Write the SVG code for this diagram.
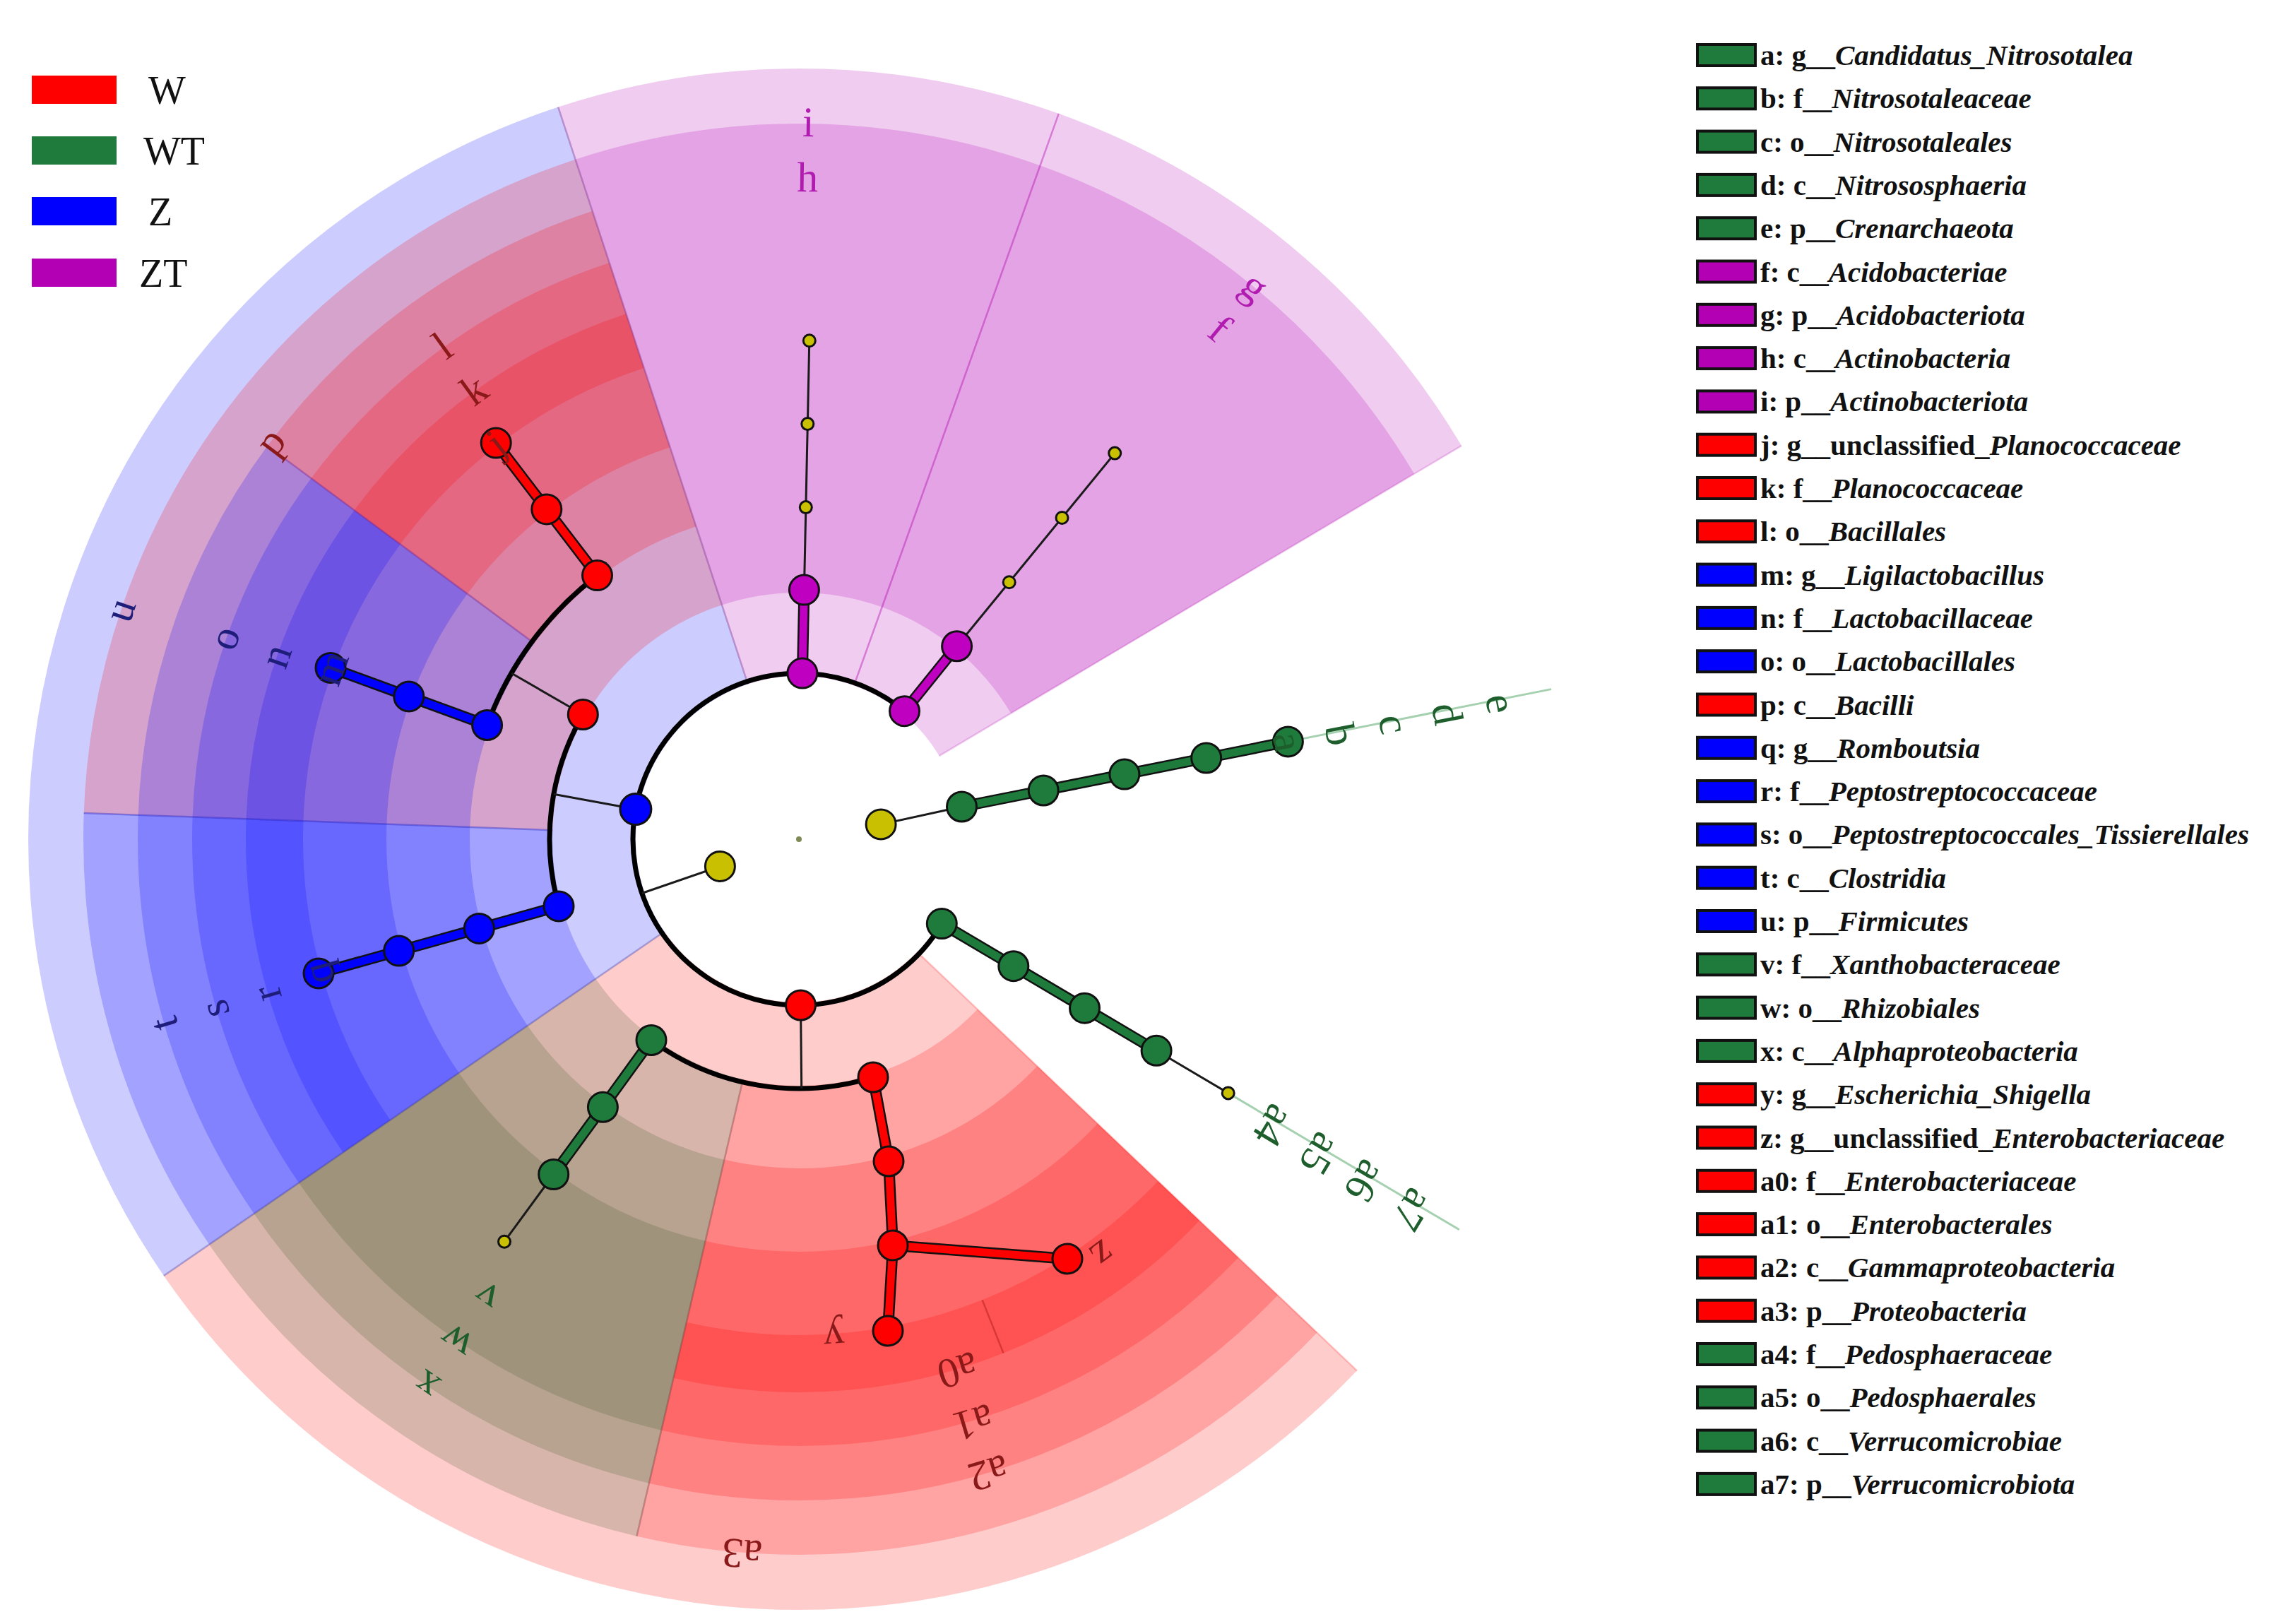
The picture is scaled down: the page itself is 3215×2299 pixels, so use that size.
<svg xmlns="http://www.w3.org/2000/svg" width="3215" height="2299" viewBox="0 0 3215 2299">
<style>
.sec{fill:none}
.sb{stroke:#0000ff;stroke-opacity:.2}
.sr{stroke:#ff0000;stroke-opacity:.2}
.sm{stroke:#b400b4;stroke-opacity:.2}
.sg{stroke:#3c5a28;stroke-opacity:.2}
.edge{stroke-width:2.5;fill:none}
.thin{stroke:#1a1a1a;stroke-width:3;fill:none}
.arc{stroke:#000;stroke-width:7;fill:none}
.out{stroke:#111;stroke-width:16;fill:none;stroke-linejoin:round}
.cG{stroke:#1e7b3c;stroke-width:11;fill:none;stroke-linejoin:round}
.cR{stroke:#ff0000;stroke-width:11;fill:none;stroke-linejoin:round}
.cB{stroke:#0000ff;stroke-width:11;fill:none;stroke-linejoin:round}
.cM{stroke:#c000c0;stroke-width:11;fill:none;stroke-linejoin:round}
.ext{stroke:#a6d1b0;stroke-width:3}
.n{stroke:#111;stroke-width:3}
.nR{fill:#ff0000}.nB{fill:#0000ff}.nG{fill:#1e7b3c}.nM{fill:#c000c0}.nY{fill:#c8c000}
.lab{font-family:"Liberation Serif","Times New Roman",serif;font-size:60px;text-anchor:middle;dominant-baseline:central}
.lr{fill:#8a1a1a}.lb{fill:#1e1e7a}.lg{fill:#1d5e2c}.lm{fill:#b01cb0}
.leg{font-family:"Liberation Serif","Times New Roman",serif;font-size:41px;font-weight:bold;fill:#111}
.it{font-style:italic}
.box{stroke:#111;stroke-width:4}
.lt{font-family:"Liberation Serif","Times New Roman",serif;font-size:56px;fill:#111}
</style>
<rect width="3215" height="2299" fill="#ffffff"/>

<g id="sectors" class="sec">
  <circle class="sb" cx="1131" cy="1188" r="661" stroke-width="860" pathLength="360" stroke-dasharray="106.3 360" stroke-dashoffset="-145.5"/>
  <circle class="sm" cx="1131" cy="1188" r="661" stroke-width="860" pathLength="360" stroke-dasharray="37.9 360" stroke-dashoffset="-251.8"/>
  <circle class="sm" cx="1131" cy="1188" r="661" stroke-width="860" pathLength="360" stroke-dasharray="39.6 360" stroke-dashoffset="-289.7"/>
  <circle class="sr" cx="1131" cy="1188" r="661" stroke-width="860" pathLength="360" stroke-dasharray="101.9 360" stroke-dashoffset="-43.6"/>
  <circle class="sb" cx="1131" cy="1188" r="681" stroke-width="664" pathLength="360" stroke-dasharray="36.6 360" stroke-dashoffset="-145.5"/>
  <circle class="sr" cx="1131" cy="1188" r="681" stroke-width="664" pathLength="360" stroke-dasharray="69.7 360" stroke-dashoffset="-182.1"/>
  <circle class="sm" cx="1131" cy="1188" r="681" stroke-width="664" pathLength="360" stroke-dasharray="37.9 360" stroke-dashoffset="-251.8"/>
  <circle class="sm" cx="1131" cy="1188" r="681" stroke-width="664" pathLength="360" stroke-dasharray="39.6 360" stroke-dashoffset="-289.7"/>
  <circle class="sg" cx="1131" cy="1188" r="681" stroke-width="664" pathLength="360" stroke-dasharray="42.4 360" stroke-dashoffset="-103.1"/>
  <circle class="sr" cx="1131" cy="1188" r="681" stroke-width="664" pathLength="360" stroke-dasharray="59.5 360" stroke-dashoffset="-43.6"/>
  <circle class="sb" cx="1131" cy="1188" r="701" stroke-width="470" pathLength="360" stroke-dasharray="36.6 360" stroke-dashoffset="-145.5"/>
  <circle class="sb" cx="1131" cy="1188" r="701" stroke-width="470" pathLength="360" stroke-dasharray="34.4 360" stroke-dashoffset="-182.1"/>
  <circle class="sr" cx="1131" cy="1188" r="701" stroke-width="470" pathLength="360" stroke-dasharray="35.3 360" stroke-dashoffset="-216.5"/>
  <circle class="sg" cx="1131" cy="1188" r="701" stroke-width="470" pathLength="360" stroke-dasharray="42.4 360" stroke-dashoffset="-103.1"/>
  <circle class="sr" cx="1131" cy="1188" r="701" stroke-width="470" pathLength="360" stroke-dasharray="59.5 360" stroke-dashoffset="-43.6"/>
  <circle class="sb" cx="1131" cy="1188" r="721.5" stroke-width="275" pathLength="360" stroke-dasharray="36.6 360" stroke-dashoffset="-145.5"/>
  <circle class="sb" cx="1131" cy="1188" r="721.5" stroke-width="275" pathLength="360" stroke-dasharray="34.4 360" stroke-dashoffset="-182.1"/>
  <circle class="sr" cx="1131" cy="1188" r="721.5" stroke-width="275" pathLength="360" stroke-dasharray="35.3 360" stroke-dashoffset="-216.5"/>
  <circle class="sg" cx="1131" cy="1188" r="721.5" stroke-width="275" pathLength="360" stroke-dasharray="42.4 360" stroke-dashoffset="-103.1"/>
  <circle class="sr" cx="1131" cy="1188" r="721.5" stroke-width="275" pathLength="360" stroke-dasharray="59.5 360" stroke-dashoffset="-43.6"/>
  <circle class="sb" cx="1131" cy="1188" r="742.5" stroke-width="81" pathLength="360" stroke-dasharray="36.6 360" stroke-dashoffset="-145.5"/>
  <circle class="sb" cx="1131" cy="1188" r="742.5" stroke-width="81" pathLength="360" stroke-dasharray="34.4 360" stroke-dashoffset="-182.1"/>
  <circle class="sr" cx="1131" cy="1188" r="742.5" stroke-width="81" pathLength="360" stroke-dasharray="35.3 360" stroke-dashoffset="-216.5"/>
  <circle class="sr" cx="1131" cy="1188" r="742.5" stroke-width="81" pathLength="360" stroke-dasharray="34.8 360" stroke-dashoffset="-68.3"/>
  <circle class="sr" cx="1131" cy="1188" r="742.5" stroke-width="81" pathLength="360" stroke-dasharray="24.7 360" stroke-dashoffset="-43.6"/>
  <line class="edge" x1="940.6" y1="1318.8" x2="231.9" y2="1806.0" stroke="#3030a0" stroke-opacity=".35"/>
  <line class="edge" x1="1058.9" y1="968.6" x2="790.2" y2="151.6" stroke="#803090" stroke-opacity=".4"/>
  <line class="edge" x1="1208.9" y1="970.5" x2="1498.8" y2="160.9" stroke="#b000b0" stroke-opacity=".4"/>
  <line class="edge" x1="1329.6" y1="1070.1" x2="2069.1" y2="631.0" stroke="#b000b0" stroke-opacity=".2"/>
  <line class="edge" x1="1298.3" y1="1347.3" x2="1921.1" y2="1940.4" stroke="#ff0000" stroke-opacity=".2"/>
  <line class="edge" x1="782.2" y1="1175.2" x2="118.7" y2="1150.9" stroke="#2020c0" stroke-opacity=".4"/>
  <line class="edge" x1="756.4" y1="910.8" x2="378.6" y2="631.2" stroke="#702090" stroke-opacity=".4"/>
  <line class="edge" x1="1051.9" y1="1527.9" x2="901.4" y2="2174.6" stroke="#703030" stroke-opacity=".35"/>
  <line class="edge" x1="1390.6" y1="1840.2" x2="1420.5" y2="1915.5" stroke="#a01010" stroke-opacity=".4"/>
</g>

<g id="connectors">
  <line class="ext" x1="1823.4" y1="1049.9" x2="2196.0" y2="975.6"/>
  <line class="ext" x1="1738.7" y1="1547.4" x2="2065.8" y2="1740.8"/>
  <path class="arc" stroke-width="8" d="M1333.3 1307.6 A235 235 0 1 1 1280.5 1006.7"/>
  <path class="arc" d="M791.0 1282.9 A353 353 0 0 1 825.3 1011.5"/>
  <path class="arc" d="M689.6 1026.5 A470 470 0 0 1 845.5 814.6"/>
  <path class="arc" d="M1236.0 1525.0 A353 353 0 0 1 922.0 1472.5"/>
  <line class="thin" x1="1019.4" y1="1226.4" x2="908.8" y2="1264.5"/>
  <line class="thin" x1="1247.1" y1="1166.9" x2="1361.5" y2="1142.0"/>
  <line class="thin" x1="899.9" y1="1145.6" x2="783.8" y2="1124.3"/>
  <line class="thin" x1="825.3" y1="1011.5" x2="724.0" y2="953.0"/>
  <line class="thin" x1="1133.5" y1="1423.0" x2="1134.7" y2="1541.0"/>
  <line class="thin" x1="1138.4" y1="835.1" x2="1145.8" y2="482.2"/>
  <line class="thin" x1="1354.6" y1="914.8" x2="1578.2" y2="641.6"/>
  <line class="thin" x1="783.7" y1="1662.5" x2="714.0" y2="1757.7"/>
  <line class="thin" x1="1637.1" y1="1487.3" x2="1738.7" y2="1547.4"/>
  <polyline class="out" points="1361.5,1142.0 1477.2,1119.0 1591.9,1096.1 1707.7,1073.0 1823.4,1049.9"/>
  <polyline class="cG" points="1361.5,1142.0 1477.2,1119.0 1591.9,1096.1 1707.7,1073.0 1823.4,1049.9"/>
  <polyline class="out" points="1333.3,1307.6 1434.8,1367.7 1535.5,1427.2 1637.1,1487.3"/>
  <polyline class="cG" points="1333.3,1307.6 1434.8,1367.7 1535.5,1427.2 1637.1,1487.3"/>
  <polyline class="out" points="922.0,1472.5 853.4,1567.3 783.7,1662.5"/>
  <polyline class="cG" points="922.0,1472.5 853.4,1567.3 783.7,1662.5"/>
  <polyline class="out" points="1135.9,953.1 1138.4,835.1"/>
  <polyline class="cM" points="1135.9,953.1 1138.4,835.1"/>
  <polyline class="out" points="1280.5,1006.7 1354.6,914.8"/>
  <polyline class="cM" points="1280.5,1006.7 1354.6,914.8"/>
  <polyline class="out" points="791.0,1282.9 678.3,1314.4 564.7,1346.1 451.0,1377.9"/>
  <polyline class="cB" points="791.0,1282.9 678.3,1314.4 564.7,1346.1 451.0,1377.9"/>
  <polyline class="out" points="689.6,1026.5 578.8,985.9 468.0,945.4"/>
  <polyline class="cB" points="689.6,1026.5 578.8,985.9 468.0,945.4"/>
  <polyline class="out" points="845.5,814.6 773.8,720.9 702.2,627.1"/>
  <polyline class="cR" points="845.5,814.6 773.8,720.9 702.2,627.1"/>
  <polyline class="out" points="1236.0,1525.0 1258,1644 1264,1763 1257,1884"/>
  <polyline class="out" points="1264,1763 1511,1782"/>
  <polyline class="cR" points="1236.0,1525.0 1258,1644 1264,1763 1257,1884"/>
  <polyline class="cR" points="1264,1763 1511,1782"/>
</g>

<g id="node-root"><circle cx="1131" cy="1188" r="4" fill="#7f8a55"/></g>
<g id="node-bacteria"><circle class="n nY" cx="1019.4" cy="1226.4" r="21"/></g>
<g id="node-archaea"><circle class="n nY" cx="1247.1" cy="1166.9" r="21"/></g>

<g id="node-e"><circle class="n nG" cx="1361.5" cy="1142.0" r="21"/><text class="lab lg" x="2124.6" y="995.8" transform="rotate(79.05 2124.6 995.8)">e</text></g>
<g id="node-d"><circle class="n nG" cx="1477.2" cy="1119.0" r="21"/><text class="lab lg" x="2049" y="1010.4" transform="rotate(79.05 2049 1010.4)">d</text></g>
<g id="node-c"><circle class="n nG" cx="1591.9" cy="1096.1" r="21"/><text class="lab lg" x="1973.4" y="1025" transform="rotate(79.05 1973.4 1025)">c</text></g>
<g id="node-b"><circle class="n nG" cx="1707.7" cy="1073.0" r="21"/><text class="lab lg" x="1897.8" y="1039.6" transform="rotate(79.05 1897.8 1039.6)">b</text></g>
<g id="node-a"><circle class="n nG" cx="1823.4" cy="1049.9" r="21"/><text class="lab lg" x="1823.4" y="1049.9" transform="rotate(78.7 1823.4 1049.9)">a</text></g>

<g id="node-a7"><circle class="n nG" cx="1333.3" cy="1307.6" r="21"/><text class="lab lg" x="2000.1" y="1712.3" transform="rotate(121.1 2000.1 1712.3)">a7</text></g>
<g id="node-a6"><circle class="n nG" cx="1434.8" cy="1367.7" r="21"/><text class="lab lg" x="1933.3" y="1672" transform="rotate(121.1 1933.3 1672)">a6</text></g>
<g id="node-a5"><circle class="n nG" cx="1535.5" cy="1427.2" r="21"/><text class="lab lg" x="1869.1" y="1633.3" transform="rotate(121.1 1869.1 1633.3)">a5</text></g>
<g id="node-a4"><circle class="n nG" cx="1637.1" cy="1487.3" r="21"/><text class="lab lg" x="1803.2" y="1593.5" transform="rotate(121.1 1803.2 1593.5)">a4</text></g>
<g id="node-pedosphaeraceae-genus"><circle class="n nY" cx="1738.7" cy="1547.4" r="8.5"/></g>

<g id="node-x"><circle class="n nG" cx="922.0" cy="1472.5" r="21"/><text class="lab lg" x="603" y="1962" transform="rotate(214.3 603 1962)">x</text></g>
<g id="node-w"><circle class="n nG" cx="853.4" cy="1567.3" r="21"/><text class="lab lg" x="645.2" y="1900.1" transform="rotate(214.3 645.2 1900.1)">w</text></g>
<g id="node-v"><circle class="n nG" cx="783.7" cy="1662.5" r="21"/><text class="lab lg" x="688.6" y="1836.5" transform="rotate(214.3 688.6 1836.5)">v</text></g>
<g id="node-xantho-genus"><circle class="n nY" cx="714.0" cy="1757.7" r="8.5"/></g>

<g id="node-i"><circle class="n nM" cx="1135.9" cy="953.1" r="21"/><text class="lab lm" x="1144.3" y="173.1" transform="rotate(0.75 1144.3 173.1)">i</text></g>
<g id="node-h"><circle class="n nM" cx="1138.4" cy="835.1" r="21"/><text class="lab lm" x="1143.3" y="251.1" transform="rotate(0.75 1143.3 251.1)">h</text></g>
<g id="node-h-order"><circle class="n nY" cx="1140.8" cy="718.1" r="8.5"/></g>
<g id="node-h-family"><circle class="n nY" cx="1143.3" cy="600.1" r="8.5"/></g>
<g id="node-h-genus"><circle class="n nY" cx="1145.8" cy="482.2" r="8.5"/></g>
<g id="node-g"><circle class="n nM" cx="1280.5" cy="1006.7" r="21"/><text class="lab lm" x="1776.6" y="404.8" transform="rotate(39.5 1776.6 404.8)">g</text></g>
<g id="node-f"><circle class="n nM" cx="1354.6" cy="914.8" r="21"/><text class="lab lm" x="1727" y="465" transform="rotate(39.5 1727 465)">f</text></g>
<g id="node-f-order"><circle class="n nY" cx="1428.7" cy="824.3" r="8.5"/></g>
<g id="node-f-family"><circle class="n nY" cx="1503.5" cy="733.0" r="8.5"/></g>
<g id="node-f-genus"><circle class="n nY" cx="1578.2" cy="641.6" r="8.5"/></g>

<g id="node-u"><circle class="n nB" cx="899.9" cy="1145.6" r="22"/><text class="lab lb" x="169.3" y="863.4" transform="rotate(-71.35 169.3 863.4)">u</text></g>
<g id="node-t"><circle class="n nB" cx="791.0" cy="1282.9" r="21"/><text class="lab lb" x="231.2" y="1449.4" transform="rotate(-106.2 231.2 1449.4)">t</text></g>
<g id="node-s"><circle class="n nB" cx="678.3" cy="1314.4" r="21"/><text class="lab lb" x="303.2" y="1428.5" transform="rotate(-106.2 303.2 1428.5)">s</text></g>
<g id="node-r"><circle class="n nB" cx="564.7" cy="1346.1" r="21"/><text class="lab lb" x="377.2" y="1407" transform="rotate(-106.2 377.2 1407)">r</text></g>
<g id="node-q"><circle class="n nB" cx="451.0" cy="1377.9" r="21"/><text class="lab lb" x="451.0" y="1377.9" transform="rotate(-105.6 451.0 1377.9)">q</text></g>
<g id="node-o"><circle class="n nB" cx="689.6" cy="1026.5" r="21"/><text class="lab lb" x="317.4" y="903.1" transform="rotate(-70.7 317.4 903.1)">o</text></g>
<g id="node-n"><circle class="n nB" cx="578.8" cy="985.9" r="21"/><text class="lab lb" x="390.1" y="928.5" transform="rotate(-70.7 390.1 928.5)">n</text></g>
<g id="node-m"><circle class="n nB" cx="468.0" cy="945.4" r="21"/><text class="lab lb" x="468.0" y="945.4" transform="rotate(-69.9 468.0 945.4)">m</text></g>

<g id="node-p"><circle class="n nR" cx="825.3" cy="1011.5" r="21"/><text class="lab lr" x="382.2" y="624.8" transform="rotate(-53.05 382.2 624.8)">p</text></g>
<g id="node-l"><circle class="n nR" cx="845.5" cy="814.6" r="21"/><text class="lab lr" x="626.2" y="489.3" transform="rotate(-35.85 626.2 489.3)">l</text></g>
<g id="node-k"><circle class="n nR" cx="773.8" cy="720.9" r="21"/><text class="lab lr" x="671.2" y="551.7" transform="rotate(-35.85 671.2 551.7)">k</text></g>
<g id="node-j"><circle class="n nR" cx="702.2" cy="627.1" r="21"/><text class="lab lr" x="702.2" y="627.1" transform="rotate(-37.4 702.2 627.1)">j</text></g>

<g id="node-a3"><circle class="n nR" cx="1133.5" cy="1423.0" r="21"/><text class="lab lr" x="1050.5" y="2199.8" transform="rotate(184.55 1050.5 2199.8)">a3</text></g>
<g id="node-a2"><circle class="n nR" cx="1236.0" cy="1525.0" r="21"/><text class="lab lr" x="1399.5" y="2085.7" transform="rotate(163.35 1399.5 2085.7)">a2</text></g>
<g id="node-a1"><circle class="n nR" cx="1258" cy="1644" r="21"/><text class="lab lr" x="1378" y="2013.9" transform="rotate(163.35 1378 2013.9)">a1</text></g>
<g id="node-a0"><circle class="n nR" cx="1264" cy="1763" r="21"/><text class="lab lr" x="1355.9" y="1940.1" transform="rotate(163.35 1355.9 1940.1)">a0</text></g>
<g id="node-y"><circle class="n nR" cx="1257" cy="1884" r="21"/><text class="lab lr" x="1181" y="1894" transform="rotate(176 1181 1894)">y</text></g>
<g id="node-z"><circle class="n nR" cx="1511" cy="1782" r="21"/><text class="lab lr" x="1562" y="1777" transform="rotate(143.6 1562 1777)">z</text></g>

<g id="legend-groups">
  <rect x="45" y="107" width="120" height="40" fill="#ff0000"/>
  <text class="lt" x="210" y="147">W</text>
  <rect x="45" y="193" width="120" height="40" fill="#1e7b3c"/>
  <text class="lt" x="203" y="233">WT</text>
  <rect x="45" y="279" width="120" height="40" fill="#0000ff"/>
  <text class="lt" x="210" y="319">Z</text>
  <rect x="45" y="366" width="120" height="40" fill="#b400b4"/>
  <text class="lt" x="197" y="406">ZT</text>
</g>

<g id="legend-taxa">
  <rect class="box" x="2403" y="63.0" width="82" height="30" fill="#1e7b3c"/><text class="leg" x="2492" y="92.0">a: g__<tspan class="it">Candidatus_Nitrosotalea</tspan></text>
  <rect class="box" x="2403" y="124.3" width="82" height="30" fill="#1e7b3c"/><text class="leg" x="2492" y="153.3">b: f__<tspan class="it">Nitrosotaleaceae</tspan></text>
  <rect class="box" x="2403" y="185.6" width="82" height="30" fill="#1e7b3c"/><text class="leg" x="2492" y="214.6">c: o__<tspan class="it">Nitrosotaleales</tspan></text>
  <rect class="box" x="2403" y="246.9" width="82" height="30" fill="#1e7b3c"/><text class="leg" x="2492" y="275.9">d: c__<tspan class="it">Nitrososphaeria</tspan></text>
  <rect class="box" x="2403" y="308.2" width="82" height="30" fill="#1e7b3c"/><text class="leg" x="2492" y="337.2">e: p__<tspan class="it">Crenarchaeota</tspan></text>
  <rect class="box" x="2403" y="369.5" width="82" height="30" fill="#b400b4"/><text class="leg" x="2492" y="398.5">f: c__<tspan class="it">Acidobacteriae</tspan></text>
  <rect class="box" x="2403" y="430.8" width="82" height="30" fill="#b400b4"/><text class="leg" x="2492" y="459.8">g: p__<tspan class="it">Acidobacteriota</tspan></text>
  <rect class="box" x="2403" y="492.1" width="82" height="30" fill="#b400b4"/><text class="leg" x="2492" y="521.1">h: c__<tspan class="it">Actinobacteria</tspan></text>
  <rect class="box" x="2403" y="553.4" width="82" height="30" fill="#b400b4"/><text class="leg" x="2492" y="582.4">i: p__<tspan class="it">Actinobacteriota</tspan></text>
  <rect class="box" x="2403" y="614.7" width="82" height="30" fill="#ff0000"/><text class="leg" x="2492" y="643.7">j: g__unclassified_<tspan class="it">Planococcaceae</tspan></text>
  <rect class="box" x="2403" y="676.0" width="82" height="30" fill="#ff0000"/><text class="leg" x="2492" y="705.0">k: f__<tspan class="it">Planococcaceae</tspan></text>
  <rect class="box" x="2403" y="737.3" width="82" height="30" fill="#ff0000"/><text class="leg" x="2492" y="766.3">l: o__<tspan class="it">Bacillales</tspan></text>
  <rect class="box" x="2403" y="798.6" width="82" height="30" fill="#0000ff"/><text class="leg" x="2492" y="827.6">m: g__<tspan class="it">Ligilactobacillus</tspan></text>
  <rect class="box" x="2403" y="859.9" width="82" height="30" fill="#0000ff"/><text class="leg" x="2492" y="888.9">n: f__<tspan class="it">Lactobacillaceae</tspan></text>
  <rect class="box" x="2403" y="921.2" width="82" height="30" fill="#0000ff"/><text class="leg" x="2492" y="950.2">o: o__<tspan class="it">Lactobacillales</tspan></text>
  <rect class="box" x="2403" y="982.5" width="82" height="30" fill="#ff0000"/><text class="leg" x="2492" y="1011.5">p: c__<tspan class="it">Bacilli</tspan></text>
  <rect class="box" x="2403" y="1043.8" width="82" height="30" fill="#0000ff"/><text class="leg" x="2492" y="1072.8">q: g__<tspan class="it">Romboutsia</tspan></text>
  <rect class="box" x="2403" y="1105.1" width="82" height="30" fill="#0000ff"/><text class="leg" x="2492" y="1134.1">r: f__<tspan class="it">Peptostreptococcaceae</tspan></text>
  <rect class="box" x="2403" y="1166.4" width="82" height="30" fill="#0000ff"/><text class="leg" x="2492" y="1195.4">s: o__<tspan class="it">Peptostreptococcales_Tissierellales</tspan></text>
  <rect class="box" x="2403" y="1227.7" width="82" height="30" fill="#0000ff"/><text class="leg" x="2492" y="1256.7">t: c__<tspan class="it">Clostridia</tspan></text>
  <rect class="box" x="2403" y="1289.0" width="82" height="30" fill="#0000ff"/><text class="leg" x="2492" y="1318.0">u: p__<tspan class="it">Firmicutes</tspan></text>
  <rect class="box" x="2403" y="1350.3" width="82" height="30" fill="#1e7b3c"/><text class="leg" x="2492" y="1379.3">v: f__<tspan class="it">Xanthobacteraceae</tspan></text>
  <rect class="box" x="2403" y="1411.6" width="82" height="30" fill="#1e7b3c"/><text class="leg" x="2492" y="1440.6">w: o__<tspan class="it">Rhizobiales</tspan></text>
  <rect class="box" x="2403" y="1472.9" width="82" height="30" fill="#1e7b3c"/><text class="leg" x="2492" y="1501.9">x: c__<tspan class="it">Alphaproteobacteria</tspan></text>
  <rect class="box" x="2403" y="1534.2" width="82" height="30" fill="#ff0000"/><text class="leg" x="2492" y="1563.2">y: g__<tspan class="it">Escherichia_Shigella</tspan></text>
  <rect class="box" x="2403" y="1595.5" width="82" height="30" fill="#ff0000"/><text class="leg" x="2492" y="1624.5">z: g__unclassified_<tspan class="it">Enterobacteriaceae</tspan></text>
  <rect class="box" x="2403" y="1656.8" width="82" height="30" fill="#ff0000"/><text class="leg" x="2492" y="1685.8">a0: f__<tspan class="it">Enterobacteriaceae</tspan></text>
  <rect class="box" x="2403" y="1718.1" width="82" height="30" fill="#ff0000"/><text class="leg" x="2492" y="1747.1">a1: o__<tspan class="it">Enterobacterales</tspan></text>
  <rect class="box" x="2403" y="1779.4" width="82" height="30" fill="#ff0000"/><text class="leg" x="2492" y="1808.4">a2: c__<tspan class="it">Gammaproteobacteria</tspan></text>
  <rect class="box" x="2403" y="1840.7" width="82" height="30" fill="#ff0000"/><text class="leg" x="2492" y="1869.7">a3: p__<tspan class="it">Proteobacteria</tspan></text>
  <rect class="box" x="2403" y="1902.0" width="82" height="30" fill="#1e7b3c"/><text class="leg" x="2492" y="1931.0">a4: f__<tspan class="it">Pedosphaeraceae</tspan></text>
  <rect class="box" x="2403" y="1963.3" width="82" height="30" fill="#1e7b3c"/><text class="leg" x="2492" y="1992.3">a5: o__<tspan class="it">Pedosphaerales</tspan></text>
  <rect class="box" x="2403" y="2024.6" width="82" height="30" fill="#1e7b3c"/><text class="leg" x="2492" y="2053.6">a6: c__<tspan class="it">Verrucomicrobiae</tspan></text>
  <rect class="box" x="2403" y="2085.9" width="82" height="30" fill="#1e7b3c"/><text class="leg" x="2492" y="2114.9">a7: p__<tspan class="it">Verrucomicrobiota</tspan></text>
</g>
</svg>
